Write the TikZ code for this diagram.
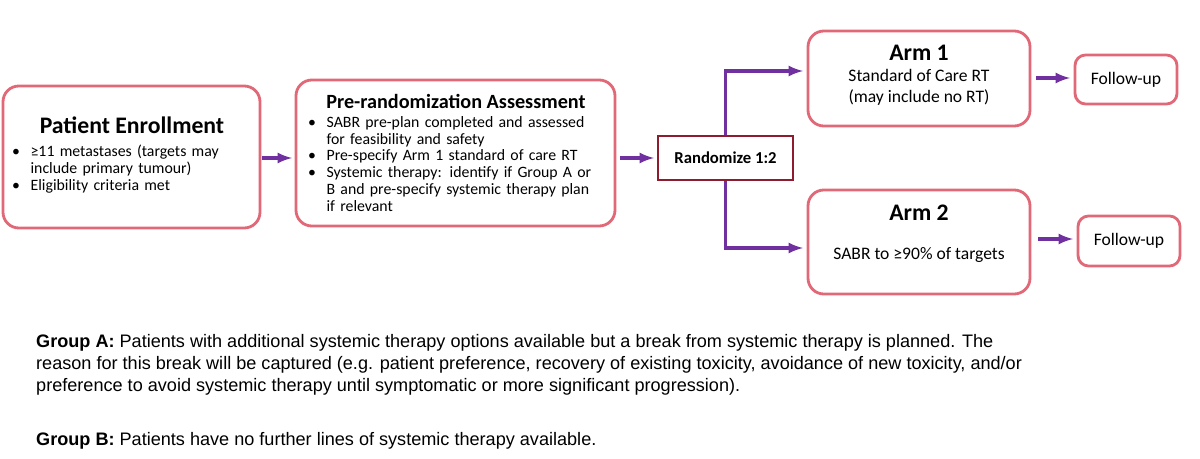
\documentclass[tikz,border=0pt]{standalone}
\usepackage{fontspec}
\setmainfont{Carlito}
\newfontfamily\arialfont{Liberation Sans}
\usepackage{xcolor}
\usetikzlibrary{positioning}
\definecolor{boxpink}{HTML}{E06877}
\definecolor{darkred}{HTML}{8E1B2E}
\definecolor{arrowpurple}{HTML}{7030A0}
\tikzset{
    stagebox/.style={draw=boxpink, line width=1.6pt, rounded corners=9pt, fill=white},
    flow/.style={->, >=latex, draw=arrowpurple, line width=1.8pt},
    bul/.style={font=\fontsize{9}{9.6}\selectfont, align=left, text width=#1}
}
\begin{document}
\begin{tikzpicture}[x=0.02cm, y=-0.02cm]
    \useasboundingbox (0,0) rectangle (1200,459);
    % boxes
    \draw[stagebox] (3,86) rectangle (260,228);
    \draw[stagebox] (296,80) rectangle (615,226);
    \draw[stagebox] (808,31) rectangle (1030,126);
    \draw[stagebox] (808,190) rectangle (1030,294);
    \draw[stagebox, rounded corners=6pt] (1075,55) rectangle (1177,104);
    \draw[stagebox, rounded corners=6pt] (1078,216) rectangle (1180,266);
    \node[draw=darkred, line width=1.6pt, minimum width=2.7cm, minimum height=0.88cm,
        font=\fontsize{9.5}{11}\selectfont\bfseries] (rand) at (725.5,158) {Randomize 1:2};
    % texts
    \node[font=\fontsize{13.5}{15}\selectfont\bfseries] (enrolt) at (132,125) {Patient Enrollment};
    \node[bul=5.1cm, anchor=north west] (enrolb) at (6,139) {%
        \textbullet\ \ ≥11 metastases (targets may\\
        \phantom{\textbullet\ \ }include primary tumour)\\
        \textbullet\ \ Eligibility criteria met};
    \node[font=\fontsize{11.5}{13}\selectfont\bfseries] (pret) at (456,101) {Pre-randomization Assessment};
    \node[bul=6.4cm, anchor=north west] (preb) at (302,110) {%
        \textbullet\ \ SABR pre-plan completed and assessed\\
        \phantom{\textbullet\ \ }for feasibility and safety\\
        \textbullet\ \ Pre-specify Arm 1 standard of care RT\\
        \textbullet\ \ Systemic therapy: identify if Group A or\\
        \phantom{\textbullet\ \ }B and pre-specify systemic therapy plan\\
        \phantom{\textbullet\ \ }if relevant};
    \node[font=\fontsize{13.5}{15}\selectfont\bfseries] (arm1t) at (919,53) {Arm 1};
    \node[font=\fontsize{10}{12}\selectfont, align=center] (arm1b) at (919,87) {Standard of Care RT\\(may include no RT)};
    \node[font=\fontsize{13.5}{15}\selectfont\bfseries] (arm2t) at (919,213) {Arm 2};
    \node[font=\fontsize{10}{12}\selectfont] (arm2b) at (919,255) {SABR to ≥90\% of targets};
    \node[font=\fontsize{10}{12}\selectfont] (fu1) at (1126,80) {Follow-up};
    \node[font=\fontsize{10}{12}\selectfont] (fu2) at (1129,241) {Follow-up};
    % arrows
    \coordinate (a1) at (262,158);
    \coordinate (a2) at (292,158);
    \coordinate (b1) at (620,158);
    \coordinate (b2) at (654,158);
    \coordinate (up) at (803,71);
    \coordinate (down) at (803,248);
    \draw[flow] (a1) -- (a2);
    \draw[flow] (b1) -- (b2);
    \draw[flow] (rand.north) |- (up);
    \draw[flow] (rand.south) |- (down);
    \coordinate (c1) at (1036,78);
    \coordinate (c2) at (1070,78);
    \coordinate (d1) at (1038,239);
    \coordinate (d2) at (1073,239);
    \draw[flow] (c1) -- (c2);
    \draw[flow] (d1) -- (d2);
    % notes
    \node[anchor=north west, align=left,
        font=\arialfont\fontsize{10.3}{12.6}\selectfont] (grpa) at (30,328) {%
        \textbf{Group A:} Patients with additional systemic therapy options available but a break from systemic therapy is planned. The\\
        reason for this break will be captured (e.g. patient preference, recovery of existing toxicity, avoidance of new toxicity, and/or\\
        preference to avoid systemic therapy until symptomatic or more significant progression).};
    \node[anchor=north west, font=\arialfont\fontsize{10.3}{12.6}\selectfont] (grpb) at (30,426) {%
        \textbf{Group B:} Patients have no further lines of systemic therapy available.};
\end{tikzpicture}
\end{document}
